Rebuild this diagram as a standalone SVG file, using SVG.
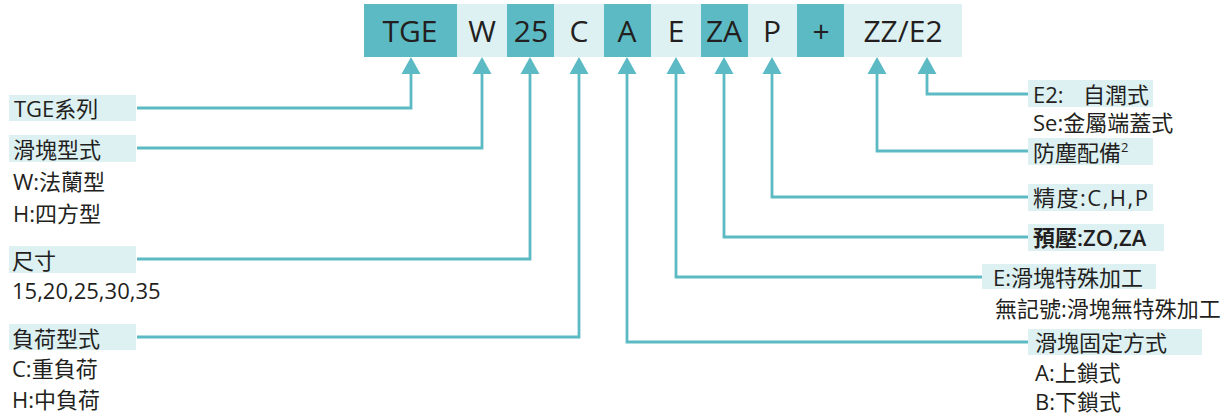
<svg xmlns="http://www.w3.org/2000/svg" width="1226" height="419" viewBox="0 0 1226 419">
<style>
.dk{fill:#5cbac4}
.lt{fill:#ddf0f2}
.code{font-family:"Open Sans","Noto Sans CJK TC",sans-serif;font-size:30px;fill:#231f20;text-anchor:middle}
.lbl{font-family:"Open Sans","Noto Sans CJK TC",sans-serif;font-size:22px;fill:#231f20}
.ln{fill:none;stroke:#5cbac4;stroke-width:2.8;stroke-linejoin:miter}
.ah{fill:#5cbac4}
</style>
<rect width="1226" height="419" fill="#ffffff"/>
<g id="code-TGE"><rect class="dk" x="364" y="4" width="93" height="53"/><text class="code" x="410" y="42">TGE</text></g>
<g id="code-W"><rect class="lt" x="457" y="4" width="50" height="53"/><text class="code" x="482" y="42">W</text></g>
<g id="code-25"><rect class="dk" x="507" y="4" width="47" height="53"/><text class="code" x="531" y="42">25</text></g>
<g id="code-C"><rect class="lt" x="554" y="4" width="50" height="53"/><text class="code" x="579" y="42">C</text></g>
<g id="code-A"><rect class="dk" x="604" y="4" width="47" height="53"/><text class="code" x="627" y="42">A</text></g>
<g id="code-E"><rect class="lt" x="651" y="4" width="50" height="53"/><text class="code" x="676" y="42">E</text></g>
<g id="code-ZA"><rect class="dk" x="701" y="4" width="47" height="53"/><text class="code" x="724" y="42">ZA</text></g>
<g id="code-P"><rect class="lt" x="748" y="4" width="49" height="53"/><text class="code" x="772" y="42">P</text></g>
<g id="code-plus"><rect class="dk" x="797" y="4" width="47" height="53"/><text class="code" x="821" y="42">+</text></g>
<g id="code-ZZE2"><rect class="lt" x="844" y="4" width="118" height="53"/><text class="code" x="903" y="42">ZZ/E2</text></g>

<g id="connectors">
<polyline class="ln" points="411,72 411,108 137,108"/>
<polyline class="ln" points="482,72 482,148 137,148"/>
<polyline class="ln" points="530,72 530,259 137,259"/>
<polyline class="ln" points="579,72 579,337 137,337"/>
<polyline class="ln" points="627,72 627,342 1028,342"/>
<polyline class="ln" points="676,72 676,277 982,277"/>
<polyline class="ln" points="724,72 724,237 1028,237"/>
<polyline class="ln" points="772,72 772,197 1028,197"/>
<polyline class="ln" points="877,72 877,151 1028,151"/>
<polyline class="ln" points="927,72 927,94 1028,94"/>
<polygon class="ah" points="411,57 401.5,74 420.5,74"/>
<polygon class="ah" points="482,57 472.5,74 491.5,74"/>
<polygon class="ah" points="530,57 520.5,74 539.5,74"/>
<polygon class="ah" points="579,57 569.5,74 588.5,74"/>
<polygon class="ah" points="627,57 617.5,74 636.5,74"/>
<polygon class="ah" points="676,57 666.5,74 685.5,74"/>
<polygon class="ah" points="724,57 714.5,74 733.5,74"/>
<polygon class="ah" points="772,57 762.5,74 781.5,74"/>
<polygon class="ah" points="877,57 867.5,74 886.5,74"/>
<polygon class="ah" points="927,57 917.5,74 936.5,74"/>
</g>

<g id="lbl-series"><rect class="lt" x="9" y="95" width="127" height="26"/><text class="lbl" x="14" y="117">TGE系列</text></g>
<g id="lbl-block"><rect class="lt" x="9" y="135" width="127" height="27"/><text class="lbl" x="13" y="158">滑塊型式</text>
<text class="lbl" x="13" y="190">W:法蘭型</text><text class="lbl" x="13" y="222">H:四方型</text></g>
<g id="lbl-size"><rect class="lt" x="9" y="246" width="127" height="27"/><text class="lbl" x="12" y="269">尺寸</text>
<text class="lbl" x="12" y="299">15,20,25,30,35</text></g>
<g id="lbl-load"><rect class="lt" x="9" y="324" width="127" height="26"/><text class="lbl" x="12" y="347">負荷型式</text>
<text class="lbl" x="12" y="377">C:重負荷</text><text class="lbl" x="12" y="408">H:中負荷</text></g>

<g id="lbl-e2"><rect class="lt" x="1028" y="80" width="125" height="27"/><text class="lbl" x="1033" y="103">E2:<tspan x="1083">自潤式</tspan></text>
<text class="lbl" x="1033" y="131">Se:金屬端蓋式</text></g>
<g id="lbl-dust"><rect class="lt" x="1028" y="138" width="125" height="27"/><text class="lbl" x="1033" y="161">防塵配備<tspan font-size="13" dy="-9">2</tspan></text></g>
<g id="lbl-precision"><rect class="lt" x="1028" y="184" width="125" height="27"/><text class="lbl" x="1033" y="206" letter-spacing="1.5">精度:C,H,P</text></g>
<g id="lbl-preload"><rect class="lt" x="1028" y="224" width="136" height="27"/><text class="lbl" x="1033" y="246" font-weight="600">預壓:ZO,ZA</text></g>
<g id="lbl-special"><rect class="lt" x="982" y="264" width="174" height="25"/><text class="lbl" x="993" y="286">E:滑塊特殊加工</text>
<text class="lbl" x="995" y="317">無記號:滑塊無特殊加工</text></g>
<g id="lbl-fix"><rect class="lt" x="1028" y="329" width="174" height="26"/><text class="lbl" x="1035" y="351">滑塊固定方式</text>
<text class="lbl" x="1035" y="381">A:上鎖式</text><text class="lbl" x="1035" y="410">B:下鎖式</text></g>
</svg>
